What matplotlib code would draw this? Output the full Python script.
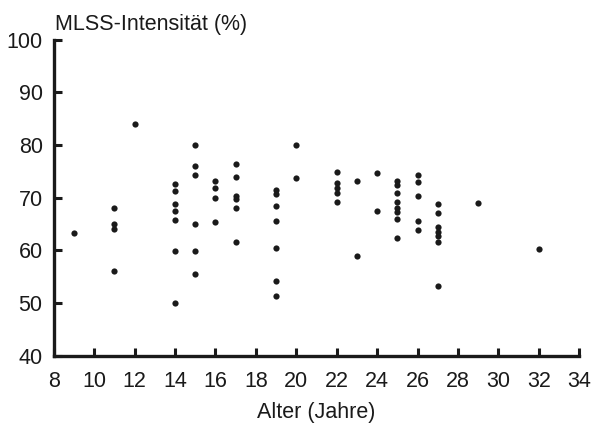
import matplotlib
matplotlib.use("Agg")
import matplotlib.pyplot as plt

plt.rcParams['font.family'] = ['Liberation Sans', 'DejaVu Sans']

ages = [9,
        11, 11, 11, 11,
        12,
        14, 14, 14, 14, 14, 14, 14,
        15, 15, 15, 15, 15, 15,
        16, 16, 16, 16,
        17, 17, 17, 17, 17, 17,
        19, 19, 19, 19, 19, 19, 19,
        20, 20,
        22, 22, 22, 22, 22,
        23, 23,
        24, 24,
        25, 25, 25, 25, 25, 25, 25, 25,
        26, 26, 26, 26, 26,
        27, 27, 27, 27, 27, 27, 27,
        29,
        32]
mlss = [63.3,
        68.0, 65.0, 64.0, 56.0,
        83.9,
        72.5, 71.3, 68.8, 67.5, 65.7, 59.9, 50.0,
        79.9, 76.0, 74.2, 65.0, 59.9, 55.5,
        73.2, 71.9, 70.0, 65.4,
        76.3, 74.0, 70.3, 69.7, 68.0, 61.5,
        71.5, 70.6, 68.4, 65.6, 60.5, 54.2, 51.3,
        79.9, 73.7,
        74.9, 72.8, 71.9, 70.9, 69.2,
        73.2, 58.9,
        74.7, 67.5,
        73.1, 72.4, 70.8, 69.1, 68.1, 67.3, 66.0, 62.4,
        74.2, 73.0, 70.3, 65.6, 63.9,
        68.7, 67.0, 64.4, 63.5, 62.7, 61.6, 53.2,
        68.9,
        60.3]

x_ticks = list(range(8, 35, 2))
y_ticks = list(range(40, 101, 10))

fig = plt.figure(figsize=(5.91, 4.25), dpi=100)
ax = fig.add_axes([0.091, 0.163, 0.889, 0.744])
ax.scatter(ages, mlss, s=20, color='#1a1a1a', linewidths=0, zorder=3, clip_on=False)

ax.set_xlim(8, 34)
ax.set_ylim(40, 100)
ax.set_xticks(x_ticks)
ax.set_yticks(y_ticks)
for s in ['top', 'right']:
    ax.spines[s].set_visible(False)
for s in ['left', 'bottom']:
    ax.spines[s].set_linewidth(2.4)
    ax.spines[s].set_color('#1a1a1a')
ax.tick_params(direction='in', length=6, width=2.2, color='#1a1a1a',
               labelsize=15.5, labelcolor='#1a1a1a')
ax.tick_params(axis='x', pad=11)
ax.tick_params(axis='y', pad=8)

fig.text(0.093, 1 - 30/425, 'MLSS-Intensität (%)', fontsize=15.5,
         color='#1a1a1a', ha='left', va='baseline')
ax.set_xlabel('Alter (Jahre)', fontsize=15.5, color='#1a1a1a', labelpad=7)

fig.savefig('out.png', dpi=100)
